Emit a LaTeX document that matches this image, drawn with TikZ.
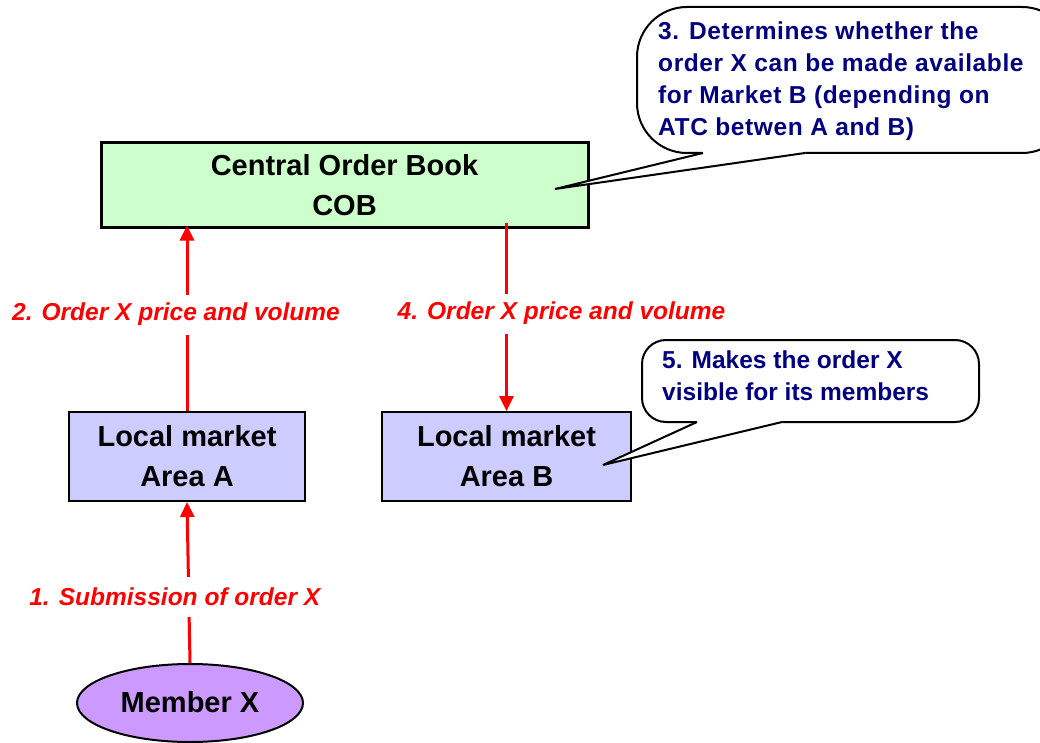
\documentclass[tikz,border=0pt]{standalone}
\usepackage{fontspec}
\setmainfont{Liberation Sans}
\usetikzlibrary{arrows.meta,shapes.geometric}

\definecolor{cobgreen}{HTML}{CCFFCC}
\definecolor{areablue}{HTML}{CCCCFF}
\definecolor{memberviolet}{HTML}{CC99FF}
\definecolor{flowred}{HTML}{FF0000}
\definecolor{notenavy}{HTML}{000080}

\tikzset{
  bigtext/.style={font=\bfseries\fontsize{29}{40}\selectfont, align=center, text=black},
  cobbox/.style={draw=black, line width=3pt, fill=cobgreen, bigtext,
    minimum width=487pt, minimum height=85pt, inner sep=0pt},
  areabox/.style={draw=black, line width=2pt, fill=areablue, bigtext,
    minimum height=89pt, inner sep=0pt},
  memberbox/.style={ellipse, draw=black, line width=2pt, fill=memberviolet, bigtext,
    minimum width=226pt, minimum height=78pt, inner sep=0pt},
  flow/.style={draw=flowred, line width=3pt, -{Triangle[length=15pt,width=14pt]}},
  flowlabel/.style={fill=white, text=flowred, inner xsep=2pt, minimum height=40pt,
    font=\bfseries\itshape\fontsize{24.5}{28}\selectfont},
  callout/.style={draw=black, line width=2pt, fill=white, rounded corners=30pt},
  notetext/.style={text=notenavy, align=left, inner sep=0pt, anchor=north west,
    font=\bfseries\fontsize{24.5}{32}\selectfont},
}

\begin{document}
\begin{tikzpicture}[x=1pt,y=-1pt]
  \useasboundingbox (0,0) rectangle (1040,743);

  % boxes
  \node[cobbox] (cob) at (344.5,185.5) {Central Order Book\\COB};
  \node[areabox, minimum width=236pt] (areaA) at (187,456.5) {Local market\\Area A};
  \node[areabox, minimum width=249pt] (areaB) at (506.5,456.5) {Local market\\Area B};
  \node[memberbox] (member) at (190,703) {\raisebox{3pt}{Member X}};

  % order flow
  \draw[flow] (member.north) -- (areaA.south)
    node[flowlabel, pos=0.41, xshift=-14pt] (lab1) {1. Submission of order X};
  \draw[flow] (areaA.north) -- ([yshift=4pt]areaA.north |- cob.south)
    node[flowlabel, pos=0.52, xshift=-11pt] (lab2) {2. Order X price and volume};
  \coordinate (cobout) at ([yshift=6pt]cob.south -| areaB.north);
  \draw[flow] (cobout) -- (areaB.north)
    node[flowlabel, pos=0.48, xshift=55pt] (lab4) {4. Order X price and volume};

  % callout 3 attached to the central order book
  \coordinate (tip3) at (555,189);
  \path[callout, rounded corners=50pt] (637,7) rectangle (1072,153);
  \fill[white] (703,156) -- (tip3) -- (805,156) -- (805,149) -- (703,149) -- cycle;
  \draw[line width=2pt, line join=miter] (703,153) -- (tip3) -- (805,153);
  \node[notetext, font=\bfseries\fontsize{24.5}{32}\addfontfeatures{LetterSpace=2.5}\selectfont]
    (note3) at (658,21.5)
    {3. Determines whether the\\order X can be made available\\for Market B (depending on\\ATC betwen A and B)};

  % callout 5 attached to area B
  \coordinate (tip5) at (603,465);
  \path[callout, rounded corners=24pt] (642,340) rectangle (979,422);
  \fill[white] (697,425) -- (tip5) -- (782,425) -- (782,418) -- (697,418) -- cycle;
  \draw[line width=2pt, line join=miter] (697,422) -- (tip5) -- (782,422);
  \node[notetext] (note5) at (662,351)
    {5. Makes the order X\\visible for its members};
\end{tikzpicture}
\end{document}
